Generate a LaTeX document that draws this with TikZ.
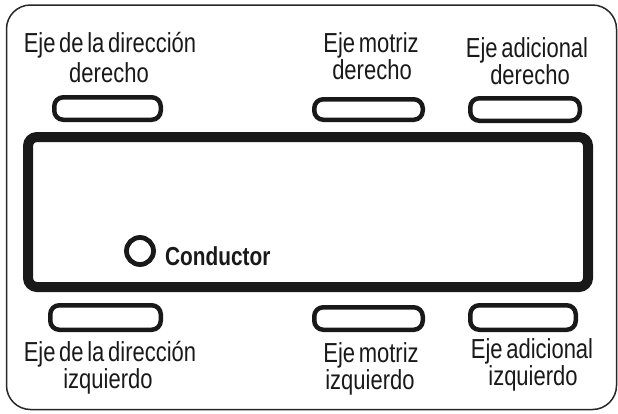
\documentclass[tikz,border=0pt]{standalone}
\usepackage{fontspec}
\setmainfont{Liberation Sans}[FakeStretch=0.8, WordSpace=0.6]
\begin{document}
\begin{tikzpicture}[x=1pt,y=-1pt,
  frame/.style={draw=black!85, line width=1.5pt, rounded corners=24pt},
  body/.style={draw=black!90, line width=10pt, rounded corners=9pt},
  wheel/.style={draw=black!90, line width=4.5pt, rounded corners=9pt},
  lbl/.style={anchor=base, inner sep=0pt, font=\fontsize{27.5}{32}\selectfont, text=black!90},
  drv/.style={anchor=base west, inner sep=0pt, font=\fontsize{26}{30}\selectfont\bfseries, text=black!90}]
\useasboundingbox (0,0) rectangle (618,413);
\draw[frame] (6.5,5) rectangle (616.5,409.5);
\draw[body] (28,137) rectangle (588,287);
% wheels
\draw[wheel] (54.25,97.25) rectangle (160.75,119.75);
\draw[wheel] (314.25,99.25) rectangle (422.75,119.75);
\draw[wheel] (470.25,98.25) rectangle (579.75,120.75);
\draw[wheel] (50.25,305.25) rectangle (160.75,329.75);
\draw[wheel] (314.25,307.25) rectangle (422.75,329.75);
\draw[wheel] (470.25,305.25) rectangle (575.75,329.75);
% driver
\node[circle, draw=black!90, line width=4.8pt, minimum size=27pt, inner sep=0pt] (seat) at (140,251) {};
\node[drv] (cond) at (165,265) {Conductor};
% labels
\node[lbl] (tl1) at (110,52) {Eje de la dirección};
\node[lbl] (tl2) at (109,82) {derecho};
\node[lbl] (tm1) at (371,52) {Eje motriz};
\node[lbl] (tm2) at (372,79) {derecho};
\node[lbl] (tr1) at (527,57) {Eje adicional};
\node[lbl] (tr2) at (530,84) {derecho};
\node[lbl] (bl1) at (110,361) {Eje de la dirección};
\node[lbl] (bl2) at (108,388) {izquierdo};
\node[lbl] (bm1) at (371,362) {Eje motriz};
\node[lbl] (bm2) at (370,389) {izquierdo};
\node[lbl] (br1) at (532,358) {Eje adicional};
\node[lbl] (br2) at (533,385) {izquierdo};
\end{tikzpicture}
\end{document}
